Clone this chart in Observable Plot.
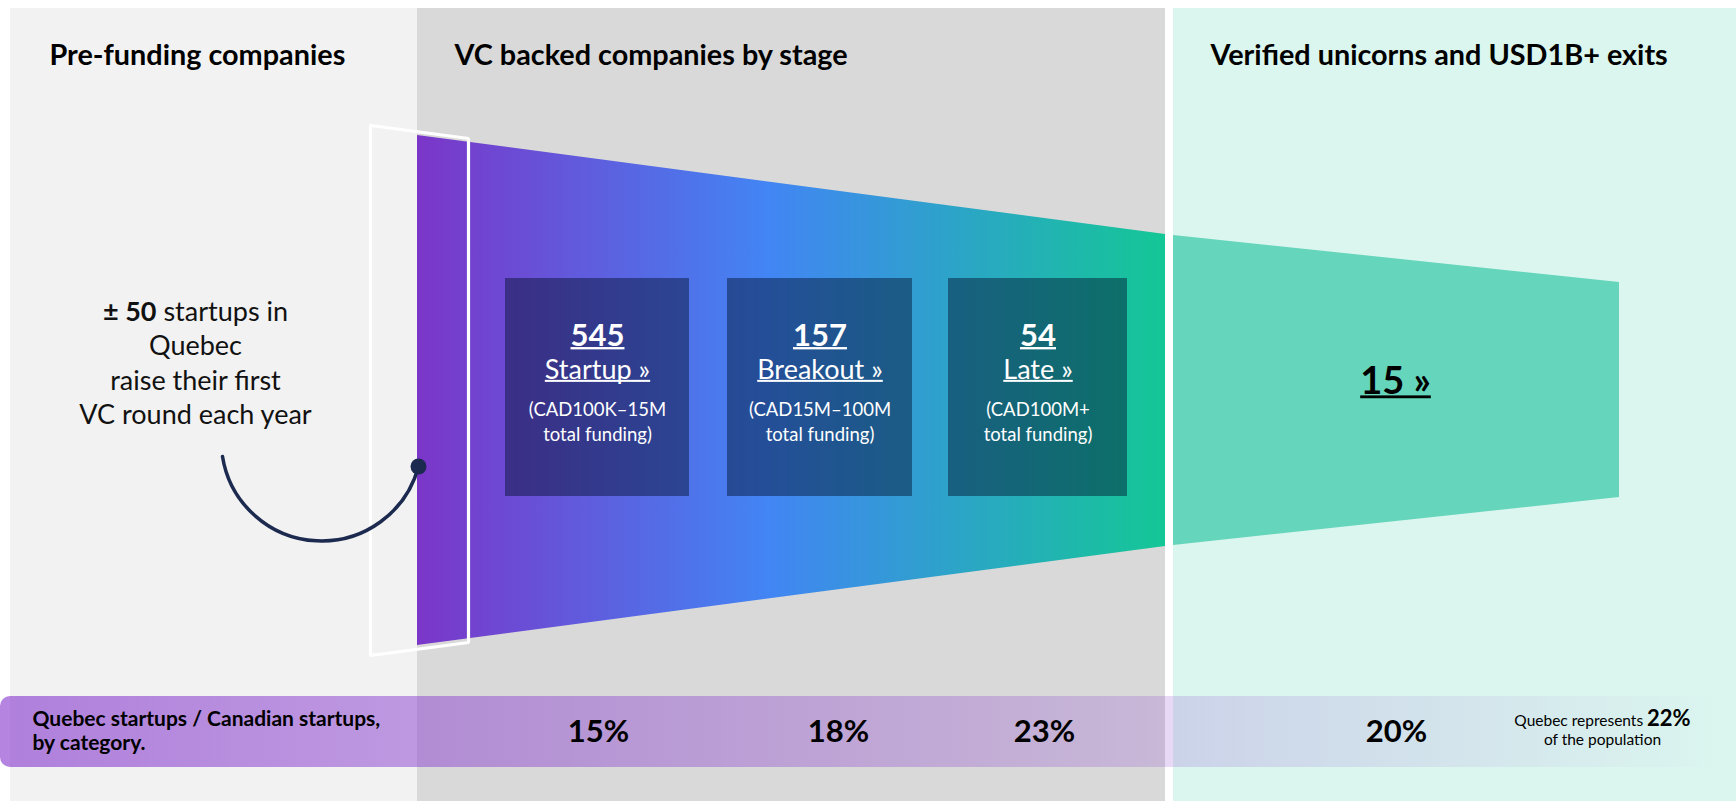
<!DOCTYPE html>
<html>
<head>
<meta charset="utf-8">
<script src="https://cdn.jsdelivr.net/npm/d3@7"></script>
<script src="https://cdn.jsdelivr.net/npm/@observablehq/plot@0.6"></script>
<style>
  html, body { margin: 0; padding: 0; background: #fff; overflow: hidden; }
  svg { display: block; }
</style>
</head>
<body>
<div id="chart"></div>
<script>
// ---------------- DATA ----------------
const sectionTitles = ["Pre-funding companies", "VC backed companies by stage", "Verified unicorns and USD1B+ exits"];
const preFundingCount = 50;
const introLines = ["Quebec", "raise their first", "VC round each year"];
const stageNames = ["Startup", "Breakout", "Late"];
const stageCounts = [545, 157, 54];
const stageRanges = ["(CAD100K–15M", "(CAD15M–100M", "(CAD100M+"];
const stageRangeSuffix = "total funding)";
const unicornCount = 15;
const shareLabelLines = ["Quebec startups / Canadian startups,", "by category."];
const shareValues = [15, 18, 23, 20];      // % Quebec / Canada: startup, breakout, late, unicorns
const populationShare = 22;                // % of Canada's population

// ---------------- LAYOUT (pixel space) ----------------
const W = 1736, H = 801;
const panels = [
  {x1: 10, x2: 417, fill: "#f2f2f2"},
  {x1: 417, x2: 1165, fill: "#d9d9d9"},
  {x1: 1173, x2: 1736, fill: "#dbf6ef"}
];
const panelTop = 8;
const titleX = [49, 454, 1210], titleY = 55;
const funnelEdge = [{x: 417, top: 135, bottom: 645}, {x: 1165, top: 234, bottom: 546}];
const exitEdge = [{x: 1173, top: 235, bottom: 545}, {x: 1619, top: 282, bottom: 497}];
const frameX = [370, 468, 468, 370, 370], frameY = [125, 138, 642, 655, 125];
const boxX1 = [505, 727, 948], boxX2 = [689, 912, 1127], boxY1 = 278, boxY2 = 496;
const headY = 350, countOffset = -5, nameOffset = 28, countSize = 31, nameSize = 27;
const introX = 195, introY = [312, 346, 381, 415];
const arcStart = {x: 222, y: 456}, arcEnd = {x: 418, y: 466};
const barY1 = 696, barY2 = 767;
const shareX = [598, 838, 1044, 1396], shareY = 732;

const boxes = stageNames.map((name, i) => ({
  name, count: stageCounts[i], range: stageRanges[i],
  x1: boxX1[i], x2: boxX2[i], cx: (boxX1[i] + boxX2[i]) / 2
}));
const shares = shareValues.map((v, i) => ({v, x: shareX[i]}));
const frame = frameX.map((x, i) => ({x, y: frameY[i]}));

const font = "Lato";

const chart = Plot.plot({
  width: W, height: H, margin: 0,
  x: {domain: [0, W], range: [0, W], axis: null},
  y: {domain: [0, H], range: [0, H], axis: null},
  style: {fontFamily: font, background: "#ffffff", overflow: "visible"},
  marks: [
    // panels
    Plot.rect(panels, {x1: "x1", x2: "x2", y1: () => panelTop, y2: () => H, fill: d => d.fill}),
    // funnel (VC stages)
    Plot.area(funnelEdge, {x1: "x", y1: "top", y2: "bottom", fill: "url(#funnelGrad)"}),
    // exits trapezoid
    Plot.area(exitEdge, {x1: "x", y1: "top", y2: "bottom", fill: "#65d5bb"}),
    // white frame around the first slice
    Plot.line(frame, {x: "x", y: "y", stroke: "#ffffff", strokeWidth: 3.2, strokeLinejoin: "miter"}),
    // stage boxes
    Plot.rect(boxes, {x1: "x1", x2: "x2", y1: () => boxY1, y2: () => boxY2, fill: "#000d28", fillOpacity: 0.45}),
    // box text: count + stage name (one text, two lines)
    Plot.text(boxes, {ariaDescription: "stage-head", x: "cx", y: () => headY, text: d => `${d.count}\n${d.name} »`,
      fill: "#ffffff", fontSize: nameSize}),
    Plot.text(boxes, {x: "cx", y: () => 410, text: "range", fill: "#ffffff", fontSize: 18.5}),
    Plot.text(boxes, {x: "cx", y: () => 435, text: () => stageRangeSuffix, fill: "#ffffff", fontSize: 18.5}),
    // unicorns
    Plot.text([unicornCount], {ariaDescription: "underlined", x: () => 1395, y: () => 381, text: d => d + " »",
      fill: "#000000", fontSize: 38, fontWeight: "bold"}),
    // section titles
    Plot.text(sectionTitles, {x: (d, i) => titleX[i], y: () => titleY, text: d => d, textAnchor: "start",
      fill: "#000000", fontSize: 28.8, fontWeight: "bold"}),
    // intro text
    Plot.text([preFundingCount], {ariaDescription: "intro-first", x: () => introX, y: () => introY[0],
      text: d => `± ${d} startups in`, fill: "#111111", fontSize: 27}),
    Plot.text(introLines, {x: () => introX, y: (d, i) => introY[i + 1], text: d => d, fill: "#111111", fontSize: 27}),
    // arc connector
    Plot.arrow([0], {x1: () => arcStart.x, y1: () => arcStart.y, x2: () => arcEnd.x, y2: () => arcEnd.y,
      bend: -78, headLength: 0, stroke: "#1b2a4e", strokeWidth: 3.5}),
    Plot.dot([0], {x: () => arcEnd.x, y: () => arcEnd.y, r: 8, fill: "#1b2a4e"}),
    // share bar
    Plot.rect([0], {x1: () => 0, x2: () => W, y1: () => barY1, y2: () => barY2, fill: "url(#shareGrad)", rx: 10}),
    Plot.text(shareLabelLines, {x: () => 32, y: (d, i) => 719 + i * 24, text: d => d, textAnchor: "start",
      fill: "#000000", fontSize: 21, fontWeight: "bold"}),
    Plot.text(shares, {x: "x", y: () => shareY, text: d => d.v + "%", fill: "#000000", fontSize: 31, fontWeight: "bold"}),
    Plot.text([populationShare], {ariaDescription: "pop-line", x: () => 1602, y: () => 721,
      text: d => `Quebec represents ${d}%`, fill: "#000000", fontSize: 15.5}),
    Plot.text(["of the population"], {x: () => 1602, y: () => 740, text: d => d, fill: "#000000", fontSize: 15.5})
  ]
});

// gradients
const svg = d3.select(chart);
const defs = svg.insert("defs", ":first-child");
const fg = defs.append("linearGradient").attr("id", "funnelGrad").attr("gradientUnits", "userSpaceOnUse")
  .attr("x1", funnelEdge[0].x).attr("x2", funnelEdge[1].x).attr("y1", 0).attr("y2", 0);
[[0, "#7b36c8"], [0.47, "#4285f4"], [1, "#14c796"]].forEach(([o, c]) =>
  fg.append("stop").attr("offset", o).attr("stop-color", c));
const sg = defs.append("linearGradient").attr("id", "shareGrad").attr("gradientUnits", "userSpaceOnUse")
  .attr("x1", 0).attr("x2", W).attr("y1", 0).attr("y2", 0);
[[0, 0.64], [0.24, 0.5], [0.5, 0.33], [0.66, 0.22], [0.68, 0.19], [0.8, 0.12], [0.92, 0.045], [1, 0]].forEach(([o, a]) =>
  sg.append("stop").attr("offset", o).attr("stop-color", "#8a3fcf").attr("stop-opacity", a));

// mixed weights
svg.selectAll('g[aria-description="intro-first"] text').each(function () {
  const t = d3.select(this); t.text("");
  t.append("tspan").attr("font-weight", "bold").text(`± ${preFundingCount}`);
  t.append("tspan").text(" startups in");
});
svg.selectAll('g[aria-description="pop-line"] text').each(function () {
  const t = d3.select(this); t.text("");
  t.append("tspan").text("Quebec represents ");
  t.append("tspan").attr("font-weight", "bold").attr("font-size", 22).text(`${populationShare}%`);
});

document.getElementById("chart").appendChild(chart);

// stage heads: bold count line, regular name line, both underlined
svg.selectAll('g[aria-description="stage-head"] text').each(function () {
  const text = this;
  const parent = d3.select(text.parentNode);
  const lines = [
    {y: countOffset, size: countSize, weight: "bold"},
    {y: nameOffset, size: nameSize, weight: null}
  ];
  d3.select(text).selectAll("tspan").each(function (_, j) {
    const L = lines[j]; if (!L) return;
    const s = d3.select(this).attr("dy", null).attr("y", L.y).attr("font-size", L.size);
    if (L.weight) s.attr("font-weight", L.weight);
    const len = this.getComputedTextLength();
    parent.append("rect")
      .attr("transform", text.getAttribute("transform"))
      .attr("x", -len / 2).attr("width", len)
      .attr("y", L.y + L.size * 0.05).attr("height", Math.max(2, L.size * 0.075))
      .attr("fill", "#ffffff");
  });
});

// underline for single-line texts
svg.selectAll('g[aria-description="underlined"]').each(function () {
  const g = d3.select(this);
  const fill = g.attr("fill") || "#000";
  g.selectAll("text").each(function () {
    const b = this.getBBox();
    const fs = parseFloat(getComputedStyle(this).fontSize) || 20;
    const baseline = b.y + b.height * 0.8225;
    d3.select(this.parentNode).append("rect")
      .attr("transform", this.getAttribute("transform"))
      .attr("x", b.x).attr("width", b.width)
      .attr("y", baseline + fs * 0.05).attr("height", Math.max(2, fs * 0.075))
      .attr("fill", fill);
  });
});
</script>
</body>
</html>
